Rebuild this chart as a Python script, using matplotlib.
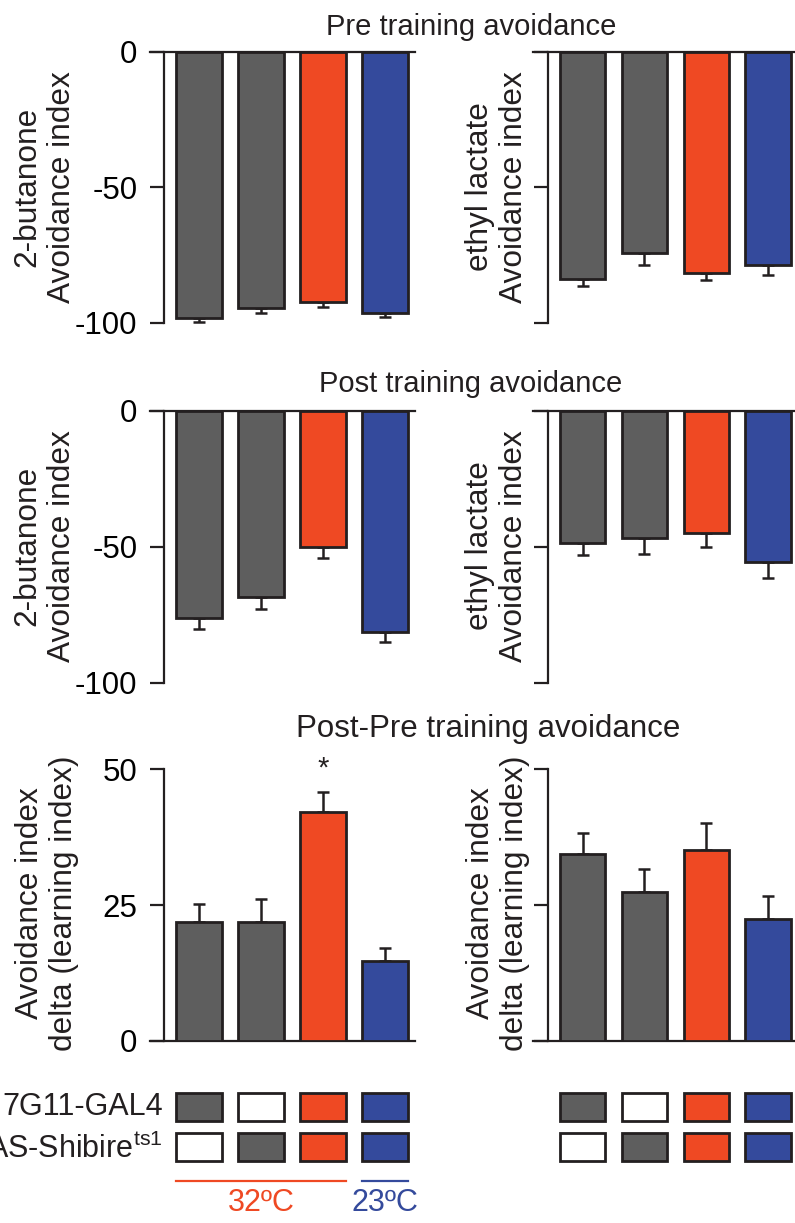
import matplotlib
matplotlib.use("Agg")
import matplotlib.pyplot as plt
import matplotlib.patches as patches
import numpy as np

plt.rcParams['font.family'] = ['Liberation Sans', 'DejaVu Sans']
plt.rcParams['mathtext.fontset'] = 'custom'
plt.rcParams['mathtext.rm'] = 'Liberation Sans'
plt.rcParams['axes.unicode_minus'] = False

# data (mean, sem) per group: GAL4/+, +/UAS, GAL4>UAS at 32C, GAL4>UAS at 23C
pre_but = [-98.3, -94.6, -92.2, -96.2]
pre_but_err = [1.5, 1.8, 2.0, 1.5]
pre_eth = [-83.8, -74.1, -81.7, -78.6]
pre_eth_err = [2.6, 4.5, 2.5, 3.7]

post_but = [-76.4, -68.5, -50.1, -81.4]
post_but_err = [3.9, 4.6, 4.1, 3.6]
post_eth = [-48.5, -46.9, -45.1, -55.7]
post_eth_err = [4.5, 5.7, 4.9, 5.9]

delta_but = [21.9, 21.9, 42.2, 14.7]
delta_but_err = [3.3, 4.2, 3.7, 2.5]
delta_eth = [34.4, 27.4, 35.2, 22.5]
delta_eth_err = [3.9, 4.3, 5.0, 4.1]

gal4 = [1, 0, 1, 1]
uas = [0, 1, 1, 1]
temps = ['32ºC', '23ºC']
temp_groups = [[0, 1, 2], [3]]

colors = ['#5e5e5e', '#5e5e5e', '#ef4923', '#344a9c']
temp_colors = ['#ef4923', '#344a9c']
ink = '#231f20'

W, H = 795, 1223
fig = plt.figure(figsize=(W / 100, H / 100), dpi=100)

def px_axes(x0, x1, y0, y1):
    # pixel box -> figure axes
    return fig.add_axes([x0 / W, 1 - y1 / H, (x1 - x0) / W, (y1 - y0) / H])

FS_TITLE = 21
FS_TICK = 22.5
FS_LAB = 22.8
FS_GENO = 22
x = np.arange(4)
BW = 0.74


def bar_panel(ax, vals, errs, ylim, yticks, spine_x, xlim, show_labels):
    neg = vals[0] < 0
    ax.bar(x, vals, width=BW, color=colors, edgecolor=ink, linewidth=2.0, zorder=3)
    zeros = np.zeros(4)
    yerr = [errs, zeros] if neg else [zeros, errs]
    ax.errorbar(x, vals, yerr=yerr, fmt='none', ecolor=ink, elinewidth=1.8,
                capsize=4.5, capthick=1.8, zorder=2, clip_on=False)
    ax.set_xlim(*xlim)
    ax.set_ylim(*ylim)
    ax.set_yticks(yticks)
    ax.set_xticks([])
    ax.spines['right'].set_visible(False)
    if neg:
        ax.spines['bottom'].set_visible(False)
    else:
        ax.spines['top'].set_visible(False)
    for s in ax.spines.values():
        s.set_linewidth(1.6)
        s.set_color(ink)
    ax.spines['left'].set_position(('data', spine_x))
    ax.tick_params(axis='y', length=10, width=1.6, color=ink, pad=9,
                   labelsize=FS_TICK, labelleft=show_labels)
    ax.patch.set_visible(False)


LX = (150, 415.4)
RX = (533, 795)
lxlim = (-0.79, 3.49)
rxlim = (-0.80, 3.43)
rows = [(51.5, 323), (410.5, 682.7), (769.3, 1041)]

panels = [
    (pre_but, pre_but_err, pre_eth, pre_eth_err, (-100, 0), [0, -50, -100]),
    (post_but, post_but_err, post_eth, post_eth_err, (-100, 0), [0, -50, -100]),
    (delta_but, delta_but_err, delta_eth, delta_eth_err, (0, 50), [0, 25, 50]),
]

axes = []
for (y0, y1), (lv, le, rv, re, ylim, yt) in zip(rows, panels):
    axl = px_axes(LX[0], LX[1], y0, y1)
    bar_panel(axl, lv, le, ylim, yt, -0.565, lxlim, True)
    axr = px_axes(RX[0], RX[1], y0, y1)
    bar_panel(axr, rv, re, ylim, yt, -0.56, rxlim, False)
    axes.append((axl, axr))

# significance
axl = axes[2][0]
axl.text(x[2], delta_but[2] + delta_but_err[2] + 1.6, '*', ha='center', va='bottom',
         fontsize=FS_TITLE, color=ink)

# titles
def ftext(px, py, s, fs, **kw):
    kw.setdefault('color', ink)
    fig.text(px / W, 1 - py / H, s, fontsize=fs, **kw)

ftext(471, 35, 'Pre training avoidance', FS_TITLE, ha='center', va='baseline')
ftext(471, 392, 'Post training avoidance', FS_TITLE, ha='center', va='baseline')
ftext(488, 737, 'Post-Pre training avoidance', 22.5, ha='center', va='baseline')

# y labels
lab_kw = dict(ha='center', va='center', rotation=90, multialignment='center', linespacing=1.2)
ftext(45, 187, '2-butanone\nAvoidance index', FS_LAB, **lab_kw)
ftext(497, 187, 'ethyl lactate\nAvoidance index', FS_LAB, **lab_kw)
ftext(45, 546, '2-butanone\nAvoidance index', FS_LAB, **lab_kw)
ftext(497, 546, 'ethyl lactate\nAvoidance index', FS_LAB, **lab_kw)
ftext(47, 903, 'Avoidance index\ndelta (learning index)', FS_LAB, **lab_kw)
ftext(498, 903, 'Avoidance index\ndelta (learning index)', FS_LAB, **lab_kw)

# genotype grid
for (gx0, gx1), xl, labels in [(LX, lxlim, True), (RX, rxlim, False)]:
    g = px_axes(gx0, gx1, 1087, 1215)
    g.set_xlim(*xl)
    g.set_ylim(2.7, -0.5)
    g.axis('off')
    for r, present in enumerate([gal4, uas]):
        for i in range(4):
            fc = colors[i] if present[i] else 'white'
            g.add_patch(patches.Rectangle((x[i] - BW / 2, r - 0.35), BW, 0.7,
                                          facecolor=fc, edgecolor=ink, linewidth=2.0,
                                          clip_on=False))
    if labels:
        g.text(-0.58, 0, '7G11-GAL4', ha='right', va='center', fontsize=FS_GENO, color=ink)
        g.text(-0.58, 1.05, 'UAS-Shibire$^{\\mathrm{ts1}}$', ha='right', va='center',
               fontsize=FS_GENO, color=ink)
        for grp, lab, c in zip(temp_groups, temps, temp_colors):
            xa = x[grp[0]] - BW / 2
            xb = x[grp[-1]] + BW / 2
            g.plot([xa, xb], [1.84, 1.84], color=c, linewidth=1.6, clip_on=False)
            g.text((xa + xb) / 2, 2.4, lab, ha='center', va='center', fontsize=22, color=c)

fig.savefig('out.png', dpi=100)
